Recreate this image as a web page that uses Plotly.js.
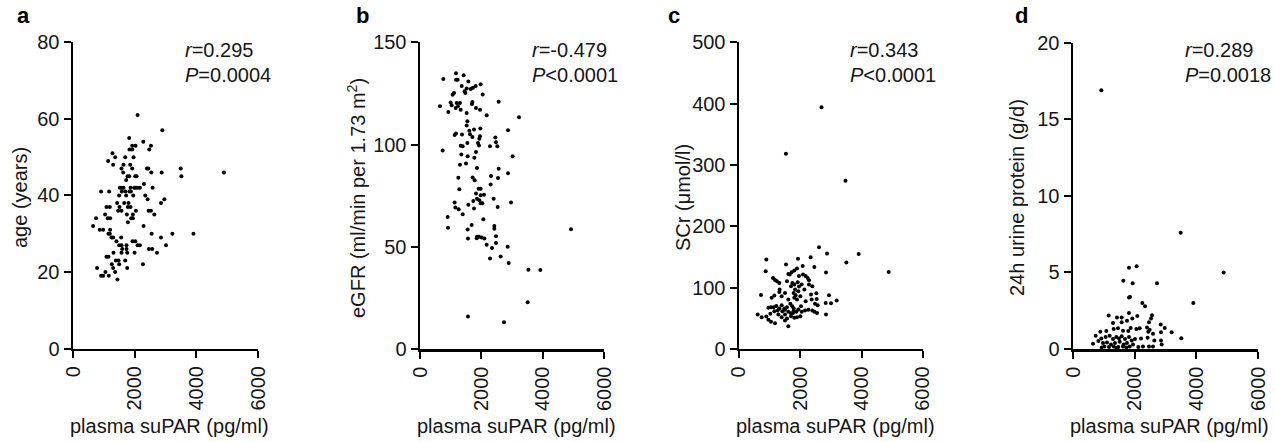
<!DOCTYPE html>
<html><head><meta charset="utf-8">
<script src="https://cdn.plot.ly/plotly-3.0.1.min.js"></script>
<style>html,body{margin:0;padding:0;background:#fff}</style>
</head><body><div id="chart" style="width:1275px;height:442px"></div>
<script>
// ---------- data ----------
const panelLetters = ['a','b','c','d'];
const xTitle = 'plasma suPAR (pg/ml)';
const yTitles = ['age (years)','eGFR (ml/min per 1.73 m<sup>2</sup>)','SCr (μmol/l)','24h urine protein (g/d)'];
const rValues = ['0.295','-0.479','0.343','0.289'];
const pValues = ['=0.0004','<0.0001','<0.0001','=0.0018'];
const xTicks = [0,2000,4000,6000];
const yMax = [80,150,500,20];
const yStep = [20,50,100,5];

const aSuPAR = [2094,2897,1823,2279, 1920,2029,2528, 1834,1920,2474, 1280, 1367,1693,1964, 1139, 1638,1302,1855,
 1573,1920,2398,2441,3494, 1628,2539,2875,4893, 1769,1823,2018,2062,3515, 1725, 2300,
 1519,1584,1638,1866,1986,2040,2105,2170,2582, 911,1172,1584,1703,1834,1877, 1497,1725,1953,2344, 2420,2962,
 1432,1660,1801,2854, 1085,1194,1508,1779,1866, 1573,1465,2040,2452,2528, 1042,1747,1942,2637,
 749,1128,1204,1888,1942, 1779, 651,2289, 868,977,1204, 1150,1194,2550,3222,3906, 1248,1302,1562,2854,
 1411,1931,2018, 1497,1573,1736,2094,2170,3016, 1595,1736,2463,2571, 1313,1573,1758,1996,2723,
 1085,1150, 1389,1476,1693, 1259,1497,2268, 1302,781,1758, 1052,1367, 911,977,1161, 1443];
const aAge = [61,57,55,54, 53,53,53, 52,52,52, 51, 50,50,50, 49, 48,48,48,
 47,47,47,47,47, 46,46,46,46, 45,45,45,45,45, 44, 43,
 42,42,42,42,42,42,42,42,42, 41,41,41,41,41,41, 40,40,40,40, 39,39,
 38,38,38,38, 37,37,37,37,37, 36,36,36,36,36, 35,35,35,35,
 34,34,34,34,34, 33, 32,32, 31,31,31, 30,30,30,30,30, 29,29,29,29,
 28,28,28, 27,27,27,27,27,27, 26,26,26,26, 25,25,25,25,25,
 24,24, 23,23,23, 22,22,22, 21,21,21, 20,20, 19,19,19, 18];

const bSuPAR = [1174,761,1174,1424,1228,1576,1978,1359,1815,1522,
 1728,1457,1652,1109,1065,1478,2044,652,1000,1196,
 1304,1707,1696,1033,1239,1163,1326,1826,1957,924,
 1522,2174,2565,3228,1544,1522,1609,1761,1174,1130,
 1370,1631,1967,2870,1707,1935,1957,1544,1326,1891,
 1924,1391,2283,2457,2478,2522,739,3022,1348,1554,
 1826,1772,1304,1500,1859,2565,2870,1250,1717,1783,
 2315,2304,2544,1283,1913,1978,1826,1978,2087,1859,
 1935,1739,1978,2402,2968,1130,1152,1261,1391,1576,
 1761,2533,2033,902,913,1685,1554,2065,2424,2478,
 2424,1859,1924,1848,2098,2011,1565,2174,2348,2478,
 2859,2283,2631,2891,3533,3924,4924,3511,1565,2739];
const bEGFR = [134.9,132.1,131.7,133.9,131.7,130.8,129.5,128.6,128.6,127.4,
 127.8,126.1,127.1,125.2,124.4,125.2,124.5,118.7,120.6,120.3,
 120.3,120.8,119.8,119.2,118.7,117.9,117.0,117.9,117.0,115.9,
 115.4,114.3,120.9,113.3,111.4,109.3,106.7,107.3,105.4,104.7,
 104.9,105.0,107.8,107.0,103.7,102.8,104.1,100.8,99.4,100.8,
 99.5,99.2,99.2,103.4,101.1,99.2,97.1,94.3,95.1,94.3,
 96.3,93.5,90.1,90.7,88.5,88.1,86.0,83.8,83.9,82.5,
 84.6,80.4,83.6,78.1,78.4,78.4,76.0,75.2,75.5,73.5,
 72.7,72.4,71.3,73.5,71.6,71.6,69.2,68.3,65.9,70.6,
 68.7,69.5,71.3,64.6,59.3,60.6,58.4,63.5,60.1,55.2,
 58.8,54.9,54.9,54.2,54.1,54.5,54.1,51.0,49.4,51.8,
 50.0,44.3,45.3,42.0,38.8,38.6,58.6,22.9,15.9,13.1];

const cSuPAR = [1530,2691,3472,891,1924,2337,2609,2870,3902,1533,
 2076,2457,1891,1804,1717,1652,1609,1957,2087,2174,
 2239,870,2837,3500,4881,1109,1174,1239,1315,1565,
 1739,1804,1696,1913,1957,2044,2283,2391,2283,717,
 1326,1315,1391,1152,1065,1500,1609,1783,1848,1804,
 2000,2131,2174,2348,2522,2370,2533,2478,2565,2935,
 2826,3000,3185,957,1043,1130,1217,1315,1391,1478,
 1565,1674,1739,1783,1935,2022,2152,2261,2391,2457,
 2544,2837,609,739,891,957,1043,1174,1283,1391,
 1500,1565,1696,1804,1891,2000,1609,1500,1761,1022,
 1783,1870,1696,1609,1500,1413,1261,1152,2044,1891,
 1935,1826];
const cSCr = [318,394,274,145.5,147.1,149.3,165.6,155.3,154.7,137.4,
 135.2,133.6,130.8,127.6,124.9,121.1,122.1,118.9,121.1,118.9,
 115.6,126.5,124.3,140.6,125.4,115.6,112.4,110.2,107.5,110.2,
 107.5,104.8,102.1,108.6,101.5,104.8,111.8,102.1,104.8,87.9,
 96.6,92.8,85.8,86.9,83.1,91.2,80.3,91.2,87.4,83.1,
 85.8,96.6,77.6,88.5,90.7,80.3,81.4,73.3,71.1,87.4,
 74.9,74.4,78.7,66.8,67.9,67.9,70.0,65.7,71.1,65.7,
 67.9,73.3,69.5,65.7,64.1,69.5,62.4,63.5,62.4,60.3,
 58.6,55.9,55.9,51.6,52.7,47.2,44.0,41.8,55.9,51.6,
 55.9,49.4,53.2,50.5,51.6,53.2,36.9,46.1,58.6,57.0,
 62.4,60.3,58.1,60.3,63.5,61.3,62.4,61.3,60.3,80.3,
 93.9,96.6];

const dSuPAR = [919,3492,1816,2065,4886,1632,1935,2724,1816,1849,
 2248,2335,3902,1157,1816,1427,1578,1924,2086,2562,
 2530,1297,1578,1751,2465,2843,2973,3200,3513,886,
 1081,1319,1459,1622,1794,1870,2054,2162,2400,2486,
 2443,2854,2594,735,919,1059,1189,1297,1405,1492,
 1578,1686,1816,1903,2011,2205,2421,2638,2854,649,
 822,973,1103,1232,1362,1514,1643,1751,1946,2270,
 2465,2876,1016,1167,1319,1470,1622,1838,2119,2594,
 930,1405,1730];
const dProtein = [16.9,7.6,5.3,5.4,5.0,4.45,4.3,4.3,3.37,3.4,
 3.0,2.8,3.0,2.19,2.35,2.06,2.06,2.0,2.15,2.2,
 2.0,1.7,1.74,1.85,1.74,1.6,1.37,1.09,0.7,1.13,
 1.17,1.3,1.35,1.2,1.17,1.37,1.3,1.35,1.41,1.26,
 1.13,1.1,1.0,0.87,0.69,0.78,0.87,0.65,0.78,0.69,
 0.83,0.65,0.78,0.56,0.65,0.69,0.74,0.56,0.56,0.35,
 0.52,0.39,0.43,0.3,0.39,0.48,0.3,0.39,0.3,0.17,
 0.17,0.3,0.17,0.13,0.17,0.13,0.17,0.17,0.13,0.17,
 0.09,0.07,0.09];

const xs = [aSuPAR,bSuPAR,cSuPAR,dSuPAR];
const ys = [aAge,bEGFR,cSCr,dProtein];

// ---------- layout geometry (pixels) ----------
const W = 1275, H = 442;
const FONT = 'Liberation Sans, Arial, Helvetica, sans-serif';
const TXT = '#161616';
const FS = 20;
const geom = [
  {x0:73,  x1:258,  yb:348.5, yt:42.3, ytx:20,  letterX:23,  statX:183},
  {x0:420, x1:604,  yb:349,   yt:42.3, ytx:357, letterX:362, statX:530},
  {x0:739, x1:923,  yb:348.8, yt:42.3, ytx:683, letterX:674, statX:848},
  {x0:1073,x1:1258, yb:349,   yt:42.8, ytx:1017,letterX:1021,statX:1183}
];

const traces = [];
const layout = {
  width: W, height: H,
  margin: {l:0, r:0, t:0, b:0},
  paper_bgcolor: '#fff', plot_bgcolor: '#fff',
  showlegend: false,
  font: {family: FONT, size: FS, color: TXT},
  annotations: []
};

for (let i = 0; i < 4; i++) {
  const g = geom[i];
  const sfx = i === 0 ? '' : String(i + 1);
  traces.push({
    type: 'scatter', mode: 'markers',
    x: xs[i], y: ys[i],
    xaxis: 'x' + sfx, yaxis: 'y' + sfx,
    marker: {size: 4, color: '#000'},
    cliponaxis: false,
    hoverinfo: 'skip'
  });
  const yTickVals = [];
  for (let v = 0; v <= yMax[i]; v += yStep[i]) yTickVals.push(v);
  layout['xaxis' + sfx] = {
    domain: [g.x0 / W, g.x1 / W],
    anchor: 'y' + sfx,
    range: [0, 6000],
    tickvals: xTicks, ticktext: xTicks.map(String),
    tickangle: -90,
    ticks: 'outside', ticklen: 7, tickwidth: 2, tickcolor: '#000',
    showline: true, linewidth: 2.5, linecolor: '#000',
    showgrid: false, zeroline: false,
    tickfont: {family: FONT, size: FS, color: TXT},
    fixedrange: true
  };
  layout['yaxis' + sfx] = {
    domain: [1 - g.yb / H, 1 - g.yt / H],
    anchor: 'x' + sfx,
    range: [0, yMax[i]],
    tickvals: yTickVals, ticktext: yTickVals.map(String),
    ticks: 'outside', ticklen: 7, tickwidth: 2, tickcolor: '#000',
    showline: true, linewidth: 2.5, linecolor: '#000',
    showgrid: false, zeroline: false,
    tickfont: {family: FONT, size: FS, color: TXT},
    fixedrange: true
  };
  layout.annotations.push({
    xref: 'paper', yref: 'paper', x: g.letterX / W, y: 1 - 16 / H,
    xanchor: 'center', yanchor: 'middle', showarrow: false,
    text: '<b>' + panelLetters[i] + '</b>', font: {family: FONT, size: 22, color: '#000'}
  });
  layout.annotations.push({
    xref: 'paper', yref: 'paper', x: g.statX / W, y: 1 - 50 / H,
    xanchor: 'left', yanchor: 'middle', showarrow: false,
    text: '<i>r</i>=' + rValues[i], font: {family: FONT, size: FS, color: TXT}
  });
  layout.annotations.push({
    xref: 'paper', yref: 'paper', x: g.statX / W, y: 1 - 75 / H,
    xanchor: 'left', yanchor: 'middle', showarrow: false,
    text: '<i>P</i>' + pValues[i], font: {family: FONT, size: FS, color: TXT}
  });
  layout.annotations.push({
    xref: 'paper', yref: 'paper', x: g.ytx / W, y: 1 - 198 / H,
    xanchor: 'center', yanchor: 'middle', showarrow: false, textangle: -90,
    text: yTitles[i], font: {family: FONT, size: FS, color: TXT}
  });
  layout.annotations.push({
    xref: 'paper', yref: 'paper', x: ((g.x0 + g.x1) / 2 + 4) / W, y: 1 - 426 / H,
    xanchor: 'center', yanchor: 'middle', showarrow: false,
    text: xTitle, font: {family: FONT, size: FS, color: TXT}
  });
}

Plotly.newPlot('chart', traces, layout, {staticPlot: true, displayModeBar: false});
</script>
</body></html>
